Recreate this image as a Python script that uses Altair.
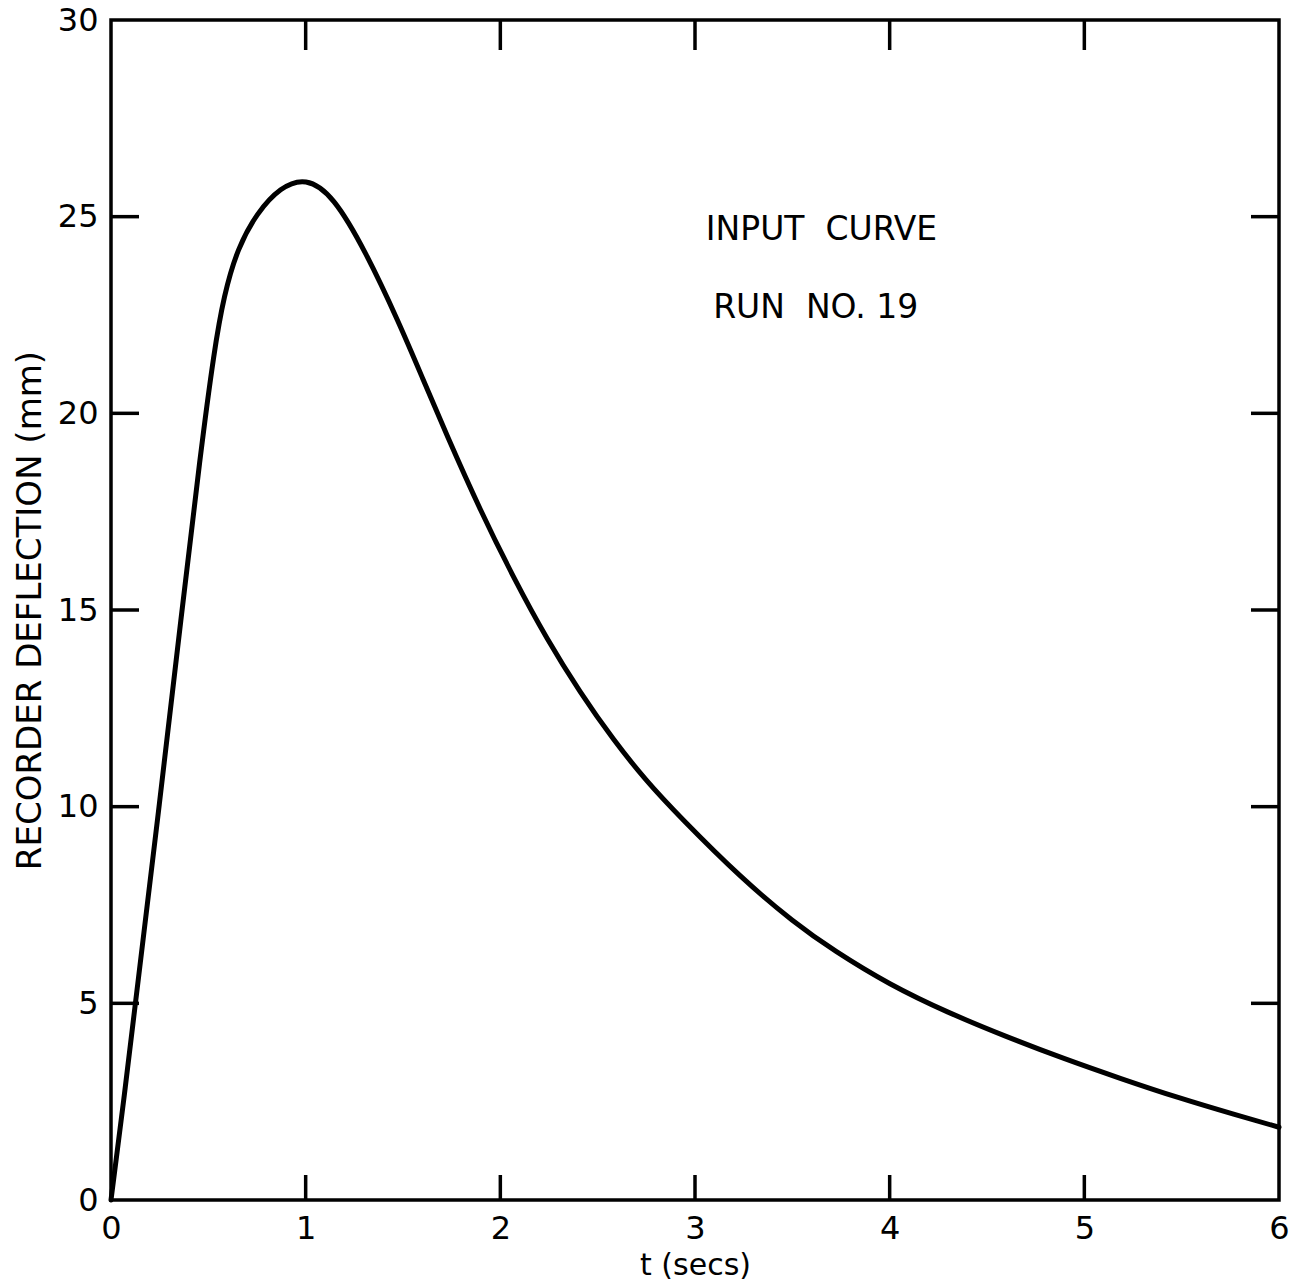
import altair as alt
import pandas as pd

# Recorder trace
t_secs = [0.0, 0.07, 0.13, 0.25, 0.36, 0.46, 0.53, 0.58, 0.65, 0.75, 0.87, 1.0,
          1.14, 1.31, 1.48, 1.6, 1.72, 1.9, 2.07, 2.24, 2.41, 2.58, 2.75, 2.92,
          3.24, 3.51, 3.71, 4.0, 4.3, 4.6, 4.89, 5.19, 5.48, 5.78, 6.0]
deflection_mm = [0.0, 2.7, 5.2, 10.1, 14.8, 19.0, 21.6, 23.0, 24.2, 25.1, 25.75, 26.0,
                 25.55, 24.1, 22.3, 20.9, 19.5, 17.5, 15.8, 14.25, 12.9, 11.7, 10.65, 9.75,
                 8.17, 7.05, 6.35, 5.47, 4.76, 4.15, 3.6, 3.08, 2.6, 2.16, 1.85]

x_ticks = [0, 1, 2, 3, 4, 5, 6]
y_ticks = [0, 5, 10, 15, 20, 25, 30]
x_inner = [1, 2, 3, 4, 5]
y_inner = [5, 10, 15, 20, 25]

notes = ["INPUT\u00a0\u00a0CURVE", "RUN\u00a0\u00a0NO. 19"]
note_t = [3.65, 3.62]
note_y = [24.66, 22.68]

W, H = 1168, 1180
FONT = "DejaVu Sans"

curve = pd.DataFrame({"t": t_secs, "d": deflection_mm})
xt = pd.DataFrame({"t": x_inner})
yt = pd.DataFrame({"d": y_inner})
lab = pd.DataFrame({"text": notes, "t": note_t, "d": note_y})

xscale = alt.Scale(domain=[0, 6], nice=False, zero=False)
yscale = alt.Scale(domain=[0, 30], nice=False, zero=False)

line = alt.Chart(curve).mark_line(
    color="black", strokeWidth=5, interpolate="basis", strokeCap="round"
).encode(
    x=alt.X("t:Q", scale=xscale, title="t (secs)",
            axis=alt.Axis(values=x_ticks, domain=False, ticks=False, grid=False,
                          labelFlush=False, labelFontSize=32, labelPadding=13,
                          titleFontSize=30, titlePadding=6, labelFont=FONT,
                          titleFont=FONT, titleFontWeight="normal",
                          labelColor="black", titleColor="black", format="d")),
    y=alt.Y("d:Q", scale=yscale, title="RECORDER DEFLECTION (mm)",
            axis=alt.Axis(values=y_ticks, domain=False, ticks=False, grid=False,
                          labelFlush=False, labelFontSize=32, labelPadding=13,
                          titleFontSize=34, titlePadding=10, labelFont=FONT,
                          titleFont=FONT, titleFontWeight="normal",
                          labelColor="black", titleColor="black", format="d")),
)

tick_style = dict(color="black", strokeWidth=3.5)

left_ticks = alt.Chart(yt).mark_rule(**tick_style).encode(
    y=alt.Y("d:Q", scale=yscale), x=alt.value(0), x2=alt.value(28))
right_ticks = alt.Chart(yt).mark_rule(**tick_style).encode(
    y=alt.Y("d:Q", scale=yscale), x=alt.value(W - 28), x2=alt.value(W))
bottom_ticks = alt.Chart(xt).mark_rule(**tick_style).encode(
    x=alt.X("t:Q", scale=xscale), y=alt.value(H - 25), y2=alt.value(H))
top_ticks = alt.Chart(xt).mark_rule(**tick_style).encode(
    x=alt.X("t:Q", scale=xscale), y=alt.value(0), y2=alt.value(30))

labels = alt.Chart(lab).mark_text(
    font=FONT, fontSize=33, color="black", align="center", baseline="middle"
).encode(
    x=alt.X("t:Q", scale=xscale), y=alt.Y("d:Q", scale=yscale), text="text:N")

chart = alt.layer(
    line, left_ticks, right_ticks, bottom_ticks, top_ticks, labels
).properties(
    width=W, height=H,
    autosize=alt.AutoSizeParams(type="none"),
    padding={"left": 111, "top": 20, "right": 31, "bottom": 86},
    background="white",
).configure_view(
    stroke="black", strokeWidth=3.5, fill="white"
)

chart.save("out.html", embed_options={"renderer": "svg", "actions": False})
